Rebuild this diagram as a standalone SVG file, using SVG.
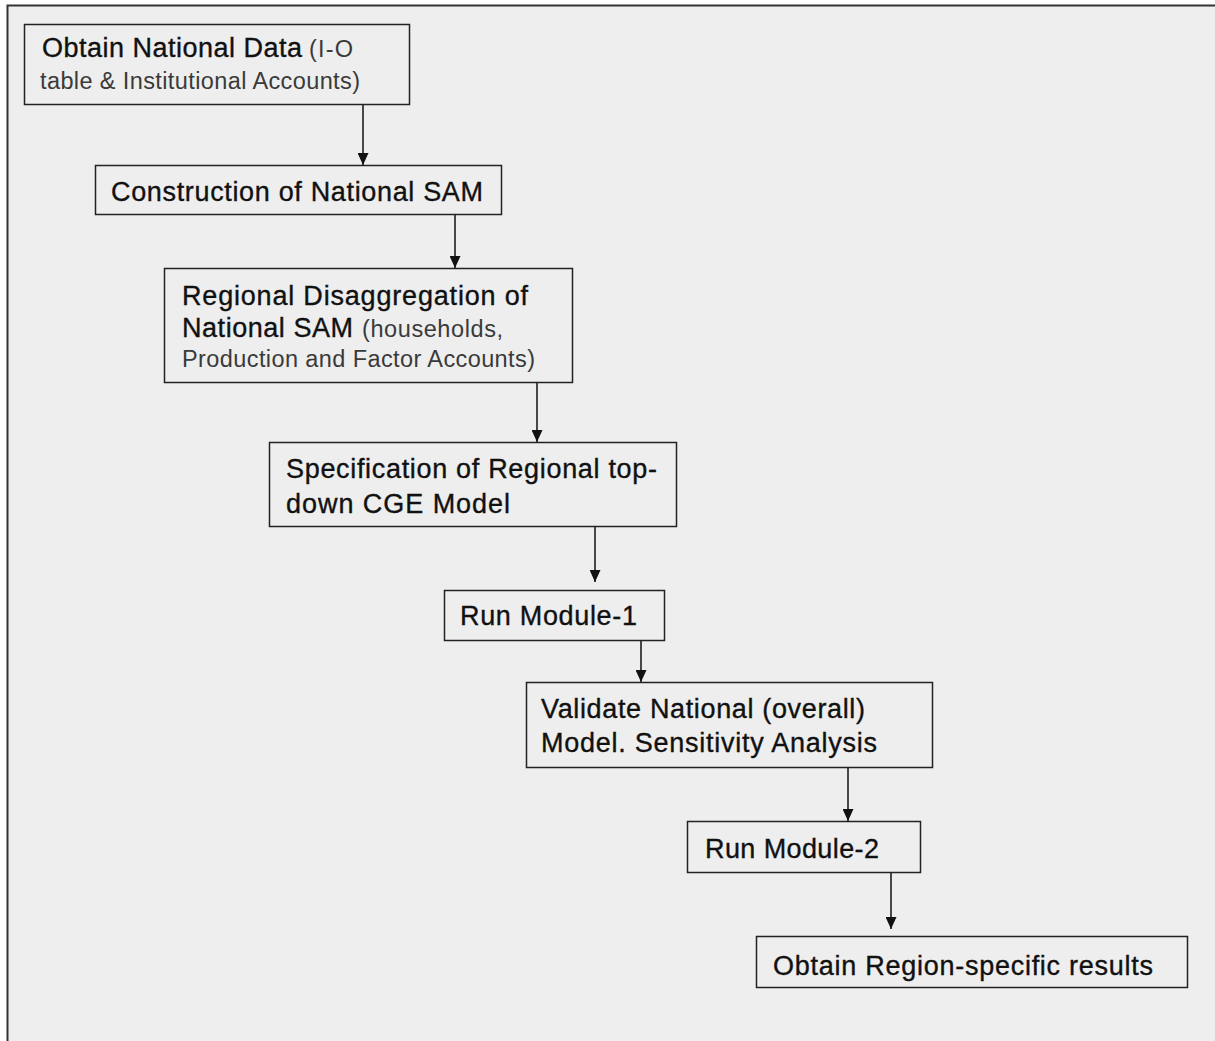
<svg xmlns="http://www.w3.org/2000/svg" width="1215" height="1041" viewBox="0 0 1215 1041">
<style>
.box{fill:none;stroke:#222;stroke-width:1.5}
.t{font-family:"Liberation Sans",Arial,sans-serif;font-size:27px;fill:#111;stroke:#111;stroke-width:0.35}
.s{font-size:23.5px;fill:#3a3a3a;stroke:none}
.c{stroke:#111;stroke-width:1.5;fill:none}
</style>
<defs>
<marker id="ah" markerUnits="userSpaceOnUse" markerWidth="12" markerHeight="11" refX="12" refY="5.5" orient="auto" viewBox="0 0 12 11">
<path d="M0,0 L12,5.5 L0,11 Z" fill="#111"/>
</marker>
</defs>
<rect x="0" y="0" width="1215" height="1041" fill="#ffffff"/>
<rect x="7.5" y="5.5" width="1220" height="1050" fill="#eeeeee" stroke="#333" stroke-width="2"/>
<g id="connectors">
<line class="c" x1="363" y1="104" x2="363" y2="165" marker-end="url(#ah)"/>
<line class="c" x1="455" y1="214" x2="455" y2="268" marker-end="url(#ah)"/>
<line class="c" x1="537" y1="382" x2="537" y2="442" marker-end="url(#ah)"/>
<line class="c" x1="595" y1="526" x2="595" y2="582" marker-end="url(#ah)"/>
<line class="c" x1="641" y1="640" x2="641" y2="682" marker-end="url(#ah)"/>
<line class="c" x1="848" y1="767" x2="848" y2="821" marker-end="url(#ah)"/>
<line class="c" x1="891" y1="872" x2="891" y2="929" marker-end="url(#ah)"/>
</g>
<g id="n1">
<rect class="box" x="24.5" y="24.5" width="385" height="80"/>
<text class="t" x="42" y="57" textLength="260" lengthAdjust="spacing">Obtain National Data</text>
<text class="t s" x="309" y="57" textLength="44" lengthAdjust="spacing">(I-O</text>
<text class="t s" x="40" y="89" textLength="320" lengthAdjust="spacing">table &amp; Institutional Accounts)</text>
</g>
<g id="n2">
<rect class="box" x="95.5" y="165.5" width="406" height="49"/>
<text class="t" x="111" y="201" textLength="372" lengthAdjust="spacing">Construction of National SAM</text>
</g>
<g id="n3">
<rect class="box" x="164.5" y="268.5" width="408" height="114"/>
<text class="t" x="182" y="305" textLength="346" lengthAdjust="spacing">Regional Disaggregation of</text>
<text class="t" x="182" y="337" textLength="171" lengthAdjust="spacing">National SAM</text>
<text class="t s" x="362" y="337" textLength="141" lengthAdjust="spacing">(households,</text>
<text class="t s" x="182" y="367" textLength="353" lengthAdjust="spacing">Production and Factor Accounts)</text>
</g>
<g id="n4">
<rect class="box" x="269.5" y="442.5" width="407" height="84"/>
<text class="t" x="286" y="478" textLength="371" lengthAdjust="spacing">Specification of Regional top-</text>
<text class="t" x="286" y="513" textLength="224" lengthAdjust="spacing">down CGE Model</text>
</g>
<g id="n5">
<rect class="box" x="444.5" y="590.5" width="220" height="50"/>
<text class="t" x="460" y="625" textLength="177" lengthAdjust="spacing">Run Module-1</text>
</g>
<g id="n6">
<rect class="box" x="526.5" y="682.5" width="406" height="85"/>
<text class="t" x="541" y="718" textLength="324" lengthAdjust="spacing">Validate National (overall)</text>
<text class="t" x="541" y="752" textLength="336" lengthAdjust="spacing">Model. Sensitivity Analysis</text>
</g>
<g id="n7">
<rect class="box" x="687.5" y="821.5" width="233" height="51"/>
<text class="t" x="705" y="858" textLength="174" lengthAdjust="spacing">Run Module-2</text>
</g>
<g id="n8">
<rect class="box" x="756.5" y="936.5" width="431" height="51"/>
<text class="t" x="773" y="975" textLength="380" lengthAdjust="spacing">Obtain Region-specific results</text>
</g>
</svg>
